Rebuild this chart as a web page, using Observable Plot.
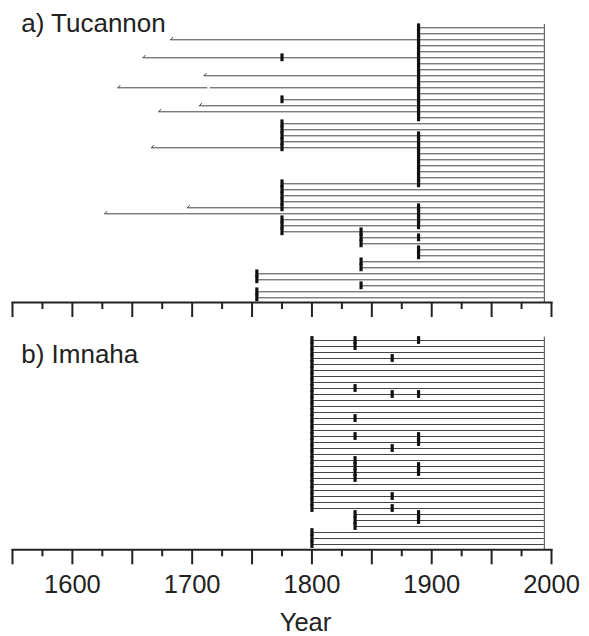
<!DOCTYPE html>
<html>
<head>
<meta charset="utf-8">
<script src="https://cdn.jsdelivr.net/npm/d3@7"></script>
<script src="https://cdn.jsdelivr.net/npm/@observablehq/plot@0.6"></script>
<style>
  html, body { margin: 0; padding: 0; background: #fff; overflow: hidden; }
  #chart svg { display: block; }
</style>
</head>
<body>
<div id="chart"></div>
<script>
// ---- shared axis data ----
const majorTicks = [1550, 1600, 1650, 1700, 1750, 1800, 1850, 1900, 1950, 2000];
const minorTicks = [1575, 1625, 1675, 1725, 1775, 1825, 1875, 1925, 1975];
const tickLabels = [1600, 1700, 1800, 1900, 2000];
const endYear = 1994;

// ---- a) Tucannon: one entry per tree (row 0 at top) ----
const tucStart = [1889, 1889, 1682, 1889, 1889, 1659, 1889, 1889, 1710, 1889,
                  1638, 1889, 1775, 1706, 1672, 1889, 1775, 1775, 1775, 1775,
                  1666, 1889, 1889, 1889, 1889, 1889, 1775, 1775, 1775, 1775,
                  1696, 1627, 1775, 1775, 1775, 1841, 1841, 1889, 1889, 1841,
                  1841, 1754, 1754, 1841, 1754, 1754];
const tucInnerRingRows = [2, 5, 8, 10, 13, 14, 20, 30, 31];
const tucGaps = [[10, 1713, 1715]];
const tucScarYears = [1754, 1775, 1841, 1889];
const tucScarRows = [
  [41, 42, 44, 45],
  [5, 12, 16, 17, 18, 19, 20, 26, 27, 28, 29, 30, 32, 33, 34],
  [34, 35, 36, 39, 40, 43],
  [0, 1, 2, 3, 4, 5, 6, 7, 8, 9, 10, 11, 12, 13, 14, 15, 18, 19, 20, 21, 22, 23, 24, 25, 26, 30, 31, 32, 33, 35, 37, 38]
];

// ---- b) Imnaha ----
const imnStart = [1800, 1800, 1800, 1800, 1800, 1800, 1800, 1800, 1800, 1800,
                  1800, 1800, 1800, 1800, 1800, 1800, 1800, 1800, 1800, 1800,
                  1800, 1800, 1800, 1800, 1800, 1800, 1800, 1800, 1800, 1836,
                  1836, 1836, 1800, 1800, 1800];
const imnInnerRingRows = [];
const imnGaps = [];
const imnScarYears = [1800, 1836, 1867, 1889];
const imnScarRows = [
  [0, 1, 2, 3, 4, 5, 6, 7, 8, 9, 10, 11, 12, 13, 14, 15, 16, 17, 18, 19, 20, 21, 22, 23, 24, 25, 26, 27, 28, 32, 33, 34],
  [0, 1, 8, 13, 16, 20, 21, 22, 23, 29, 30, 31],
  [3, 9, 18, 26, 28],
  [0, 9, 16, 17, 21, 22, 29, 30]
];

function build(starts, hookRows, gaps, scarYears, scarRows) {
  const segments = [];
  starts.forEach((s, row) => {
    let from = s;
    gaps.filter(g => g[0] === row).forEach(([, a, b]) => {
      segments.push({row, x1: from, x2: a});
      from = b;
    });
    segments.push({row, x1: from, x2: endYear});
  });
  const hooks = hookRows.map(row => ({row, x1: starts[row], x2: starts[row] + 2, y1: row, y2: row - 0.45}));
  const scars = scarYears.flatMap((yr, i) => scarRows[i].map(row => ({year: yr, row})));
  return {segments, hooks, scars};
}

function panel({title, data, yMax, height, marginTop, marginBottom, titleDy, bottomLabels}) {
  const {segments, hooks, scars} = data;
  const yTop = -0.55;
  const marks = [
    Plot.ruleY(segments, {y: "row", x1: "x1", x2: "x2", stroke: "#444", strokeWidth: 1}),
    Plot.link(hooks, {x1: "x1", y1: "y1", x2: "x2", y2: "y2", stroke: "#444", strokeWidth: 1}),
    Plot.ruleX([endYear], {y1: yTop, y2: yMax, stroke: "#444", strokeWidth: 1}),
    Plot.ruleX(scars, {x: "year", y1: d => d.row - 0.65, y2: d => d.row + 0.65, stroke: "#111", strokeWidth: 3.2}),
    Plot.frame({anchor: "bottom", stroke: "#222", strokeWidth: 2}),
    Plot.axisX(majorTicks, {tickSize: 15, stroke: "#222", strokeWidth: 2, tickFormat: () => "", label: null}),
    Plot.axisX(minorTicks, {tickSize: 7, stroke: "#222", strokeWidth: 2, tickFormat: () => "", label: null}),
    Plot.text([title], {text: d => d, frameAnchor: "top-left", dx: 8.7, dy: titleDy, lineAnchor: "top", textAnchor: "start", fontSize: 26, fill: "#222"})
  ];
  if (bottomLabels) {
    marks.push(
      Plot.axisX(tickLabels, {tickSize: 0, tickPadding: 25, fontSize: 25.5, fill: "#222", tickFormat: d => String(d), label: null}),
      Plot.text(["Year"], {text: d => d, frameAnchor: "bottom", dx: 23.5, dy: 63.5, lineAnchor: "top", fontSize: 25.5, fill: "#222"})
    );
  }
  return Plot.plot({
    width: 589,
    height,
    marginLeft: 12,
    marginRight: 38,
    marginTop,
    marginBottom,
    x: {domain: [1550, 2000]},
    y: {domain: [yTop, yMax], reverse: true, axis: null},
    style: {fontFamily: "'Liberation Sans', Arial, Helvetica, sans-serif", color: "#222", background: "white", overflow: "visible"},
    marks
  });
}

const chart = document.getElementById("chart");
chart.append(panel({
  title: "a) Tucannon",
  data: build(tucStart, tucInnerRingRows, tucGaps, tucScarYears, tucScarRows),
  yMax: 45.78, height: 323, marginTop: 24, marginBottom: 21, titleDy: -11.3, bottomLabels: false
}));
chart.append(panel({
  title: "b) Imnaha",
  data: build(imnStart, imnInnerRingRows, imnGaps, imnScarYears, imnScarRows),
  yMax: 34.88, height: 313, marginTop: 13.7, marginBottom: 86.7, titleDy: 7.2, bottomLabels: true
}));
</script>
</body>
</html>
